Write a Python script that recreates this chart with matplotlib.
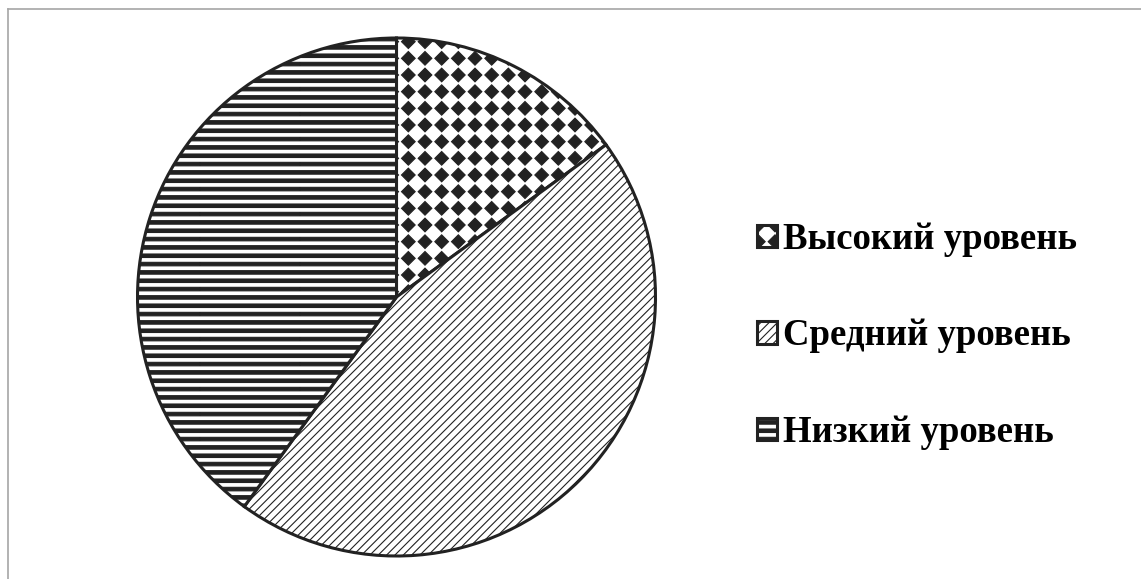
import warnings
import numpy as np
import matplotlib
matplotlib.use("Agg")
import matplotlib.pyplot as plt
import matplotlib.hatch as mhatch
from matplotlib.path import Path
from matplotlib.lines import Line2D

warnings.filterwarnings("ignore")

# Data
labels = ["Высокий уровень", "Средний уровень", "Низкий уровень"]
values = [15, 45, 40]
hatches = ["d", "////", "hh"]

plt.rcParams["hatch.linewidth"] = 0.8


# square grid of filled diamonds (Excel "solid diamond" look)
class DiamondHatch(mhatch.HatchPatternBase):
    def __init__(self, hatch, density):
        self.n = hatch.count("d") * density
        self.num_vertices = self.n * self.n * 5 if self.n else 0

    def set_vertices_and_codes(self, vertices, codes):
        step = 1.0 / self.n
        r = 0.41 * step
        shape = np.array([[0, r], [r, 0], [0, -r], [-r, 0], [0, r]])
        k = 0
        for i in range(self.n):
            for j in range(self.n):
                c = np.array([(i + 0.5) * step, (j + 0.5) * step])
                vertices[k:k + 5] = shape + c
                codes[k:k + 5] = [Path.MOVETO, Path.LINETO, Path.LINETO,
                                  Path.LINETO, Path.CLOSEPOLY]
                k += 5


# thick horizontal bands, drawn as filled strips
class BandHatch(mhatch.HatchPatternBase):
    def __init__(self, hatch, density):
        self.n = hatch.count("h") * density
        self.num_vertices = self.n * 5 if self.n else 0

    def set_vertices_and_codes(self, vertices, codes):
        step = 1.0 / self.n
        t = 0.42 * step
        for j in range(self.n):
            y0 = j * step + 0.1 * step
            vertices[j * 5:j * 5 + 5] = [[0, y0], [1, y0], [1, y0 + t],
                                         [0, y0 + t], [0, y0]]
            codes[j * 5:j * 5 + 5] = [Path.MOVETO, Path.LINETO, Path.LINETO,
                                      Path.LINETO, Path.CLOSEPOLY]


mhatch._hatch_types.append(DiamondHatch)
mhatch._hatch_types.append(BandHatch)

plt.rcParams["font.family"] = ["Liberation Serif", "DejaVu Serif"]

fig = plt.figure(figsize=(11.41, 5.79), dpi=100)
ax = fig.add_axes([137 / 1141, 23 / 579, 519 / 1141, 518 / 579])

wedges, _ = ax.pie(values, startangle=90, counterclock=False, radius=1,
                   colors=["white"] * 3,
                   wedgeprops=dict(edgecolor="#222222", linewidth=2.2))
for w, h in zip(wedges, hatches):
    w.set_hatch(h)
ax.set_xlim(-1.0, 1.0)
ax.set_ylim(-1.0, 1.0)
ax.set_aspect("equal")
ax.axis("off")

fig.legend(wedges, labels, loc="center left",
           bbox_to_anchor=(757 / 1141, 243 / 579),
           frameon=False, borderpad=0, borderaxespad=0,
           handlelength=0.55, handleheight=0.55, handletextpad=0.15,
           labelspacing=1.68,
           prop=dict(family=["Liberation Serif", "DejaVu Serif"],
                     weight="bold", size=26.5))

# thin gray frame at top and left
fig.add_artist(Line2D([8 / 1141, 1], [1 - 9 / 579, 1 - 9 / 579],
                      transform=fig.transFigure, color="#a6a6a6", lw=1.2))
fig.add_artist(Line2D([8 / 1141, 8 / 1141], [0, 1 - 9 / 579],
                      transform=fig.transFigure, color="#a6a6a6", lw=1.2))

fig.savefig("out.png", dpi=100, facecolor="white")
